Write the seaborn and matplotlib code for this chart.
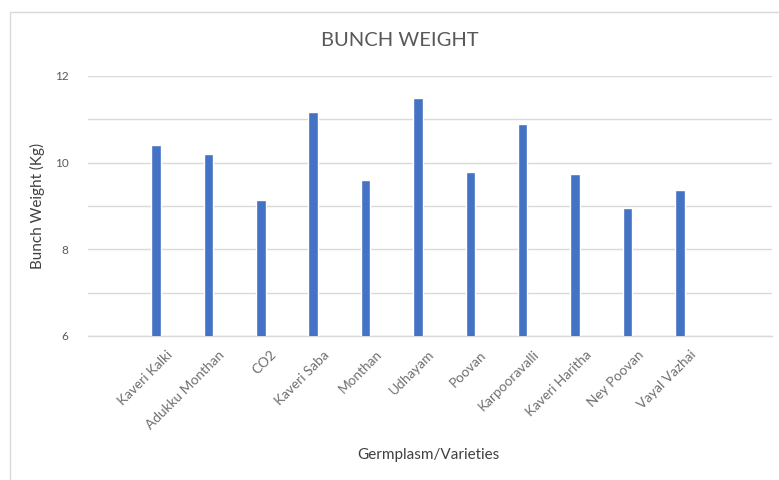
import matplotlib
matplotlib.use("Agg")
import matplotlib.pyplot as plt
import matplotlib.transforms as mtransforms
import seaborn as sns
import pandas as pd
from matplotlib.patches import Rectangle

# Germplasm / varieties and their bunch weights (kg)
varieties = ["Kaveri Kalki", "Adukku Monthan", "CO2", "Kaveri Saba", "Monthan",
             "Udhayam", "Poovan", "Karpooravalli", "Kaveri Haritha", "Ney Poovan",
             "Vayal Vazhai"]
bunch_weight = [10.41, 10.21, 9.14, 11.18, 9.60, 11.50, 9.79, 10.89, 9.75, 8.96, 9.37]
y_ticks = [6, 8, 10, 12]

df = pd.DataFrame({"variety": varieties, "weight": bunch_weight})

sns.set_theme(style="white")
plt.rcParams["font.family"] = ["Lato", "DejaVu Sans"]

fig = plt.figure(figsize=(7.79, 4.80), dpi=100)
ax = fig.add_axes([88 / 779, 1 - 336 / 480, 684 / 779, 260 / 480])

sns.barplot(data=df, x="variety", y="weight", color="#4472C4", width=0.18,
            saturation=1, ax=ax, zorder=3)

ax.set_ylim(6, 12)
ax.set_xlim(-1.30, 11.76)
ax.set_yticks(y_ticks)
ax.set_yticks(range(6, 13), minor=True)
ax.set_yticklabels([str(t) for t in y_ticks], color="#595959", fontsize=8.5)
ax.tick_params(axis="y", which="both", length=0, pad=14)
ax.grid(axis="y", which="both", color="#d9d9d9", linewidth=1, zorder=0)
ax.grid(axis="x", visible=False)
for side in ["top", "right", "left"]:
    ax.spines[side].set_visible(False)
ax.spines["bottom"].set_color("#d9d9d9")
ax.spines["bottom"].set_linewidth(1)

ax.set_xticks(range(len(varieties)))
ax.set_xticklabels(varieties, rotation=45, ha="right", va="center",
                   rotation_mode="anchor", color="#6f6f6f", fontsize=9.8)
ax.tick_params(axis="x", length=0, pad=12)
shift = mtransforms.ScaledTranslation(14 / 100, 0, fig.dpi_scale_trans)
for lbl in ax.get_xticklabels():
    lbl.set_transform(lbl.get_transform() + shift)

ax.set_ylabel("Bunch Weight (Kg)", color="#404040", fontsize=11)
ax.yaxis.set_label_coords(-0.063, 0.5)
ax.set_xlabel("Germplasm/Varieties", color="#404040", fontsize=11)
ax.xaxis.set_label_coords((428 - 88) / 684, -(455 - 336) / 260)
ax.xaxis.label.set_va("center")

fig.text(400 / 779, 1 - 41 / 480, "BUNCH WEIGHT", ha="center", va="center",
         color="#595959", fontsize=14.5)

# Chart area frame
fig.patches.append(Rectangle((10 / 779, -0.01), 1.0, 1 - 12 / 480 + 0.01,
                             transform=fig.transFigure, fill=False,
                             edgecolor="#d9d9d9", linewidth=1, zorder=-1))

fig.savefig("out.png", dpi=100)
